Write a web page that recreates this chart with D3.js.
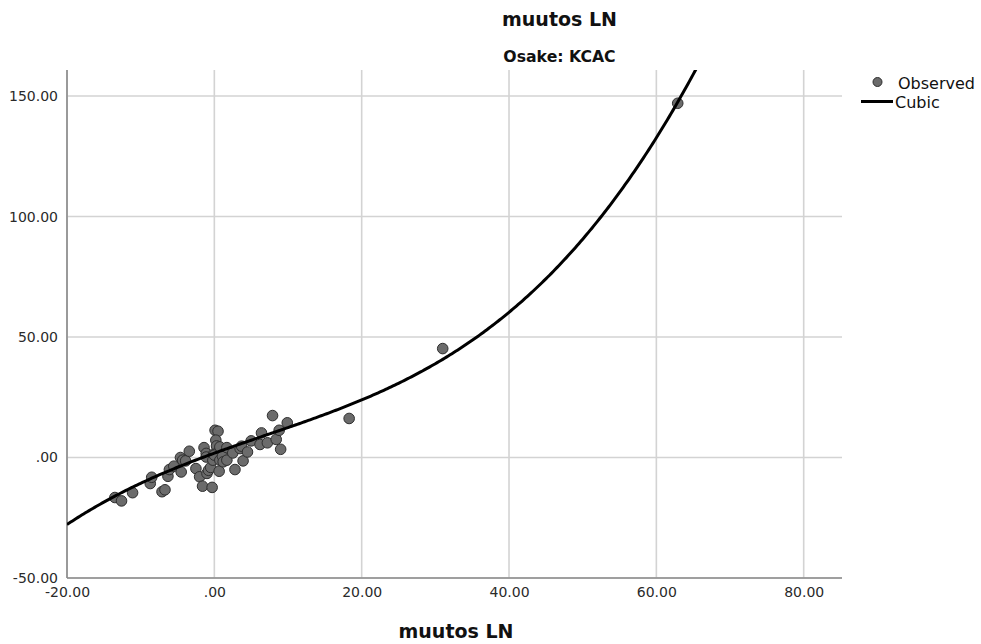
<!DOCTYPE html>
<html><head><meta charset="utf-8">
<script src="https://cdn.jsdelivr.net/npm/d3@7"></script>
<style>body{margin:0;background:#fff}svg{display:block}</style>
</head><body>
<svg id="chart" width="981" height="644"></svg>
<script>
const titleText = "muutos LN";
const subtitleText = "Osake: KCAC";
const xAxisTitle = "muutos LN";
const legendLabels = ["Observed", "Cubic"];
const xTicks = [-20, 0, 20, 40, 60, 80];
const yTicks = [-50, 0, 50, 100, 150];
const xTickLabels = ["-20.00", ".00", "20.00", "40.00", "60.00", "80.00"];
const yTickLabels = ["-50.00", ".00", "50.00", "100.00", "150.00"];
const obsX = [-13.5,-12.6,-11.1,-8.7,-8.5,-7.1,-6.7,-6.3,-6.1,-5.5,-4.6,-4.3,-3.9,-4.5,-3.4,-2.5,-2.0,-1.6,-1.4,-1.1,-1.1,-1.0,-0.8,-0.5,-0.3,-0.2,-0.1,0.1,0.5,0.2,0.3,0.3,0.0,0.65,0.75,0.75,1.1,1.2,1.7,1.7,2.5,2.8,3.5,3.7,3.9,4.5,5.0,6.2,6.4,7.2,7.9,8.4,8.8,9.0,9.9,18.3,31.0,62.9];
const obsY = [-16.6,-18.0,-14.6,-10.8,-8.2,-14.2,-13.4,-7.8,-5.0,-3.6,0.0,-1.1,-1.4,-6.0,2.6,-4.6,-8.0,-11.9,4.1,1.7,0.2,-6.6,-5.3,-4.1,-12.4,-1.1,1.4,11.3,10.9,7.2,4.8,1.7,1.0,-5.7,4.4,-1.1,0.5,-1.8,4.1,-1.1,1.9,-5.0,3.7,4.7,-1.4,2.3,6.9,5.4,10.2,6.1,17.4,7.5,11.3,3.4,14.4,16.2,45.2,147.0];
// fitted cubic model coefficients (b0, b1, b2, b3)
const cubicCoef = [1.8, 1.111, -0.0094, 0.000454];

const svg = d3.select("#chart");
const L = 67, R = 842, T = 70, B = 578;
const x = d3.scaleLinear().domain([-20, 85.2]).range([L, R]);
const y = d3.scaleLinear().domain([-50, 160.8]).range([B, T]);
const font = "'DejaVu Sans', Verdana, sans-serif";

// grid
svg.append("g").selectAll("line").data(yTicks).join("line")
  .attr("x1", L).attr("x2", R).attr("y1", d => y(d)).attr("y2", d => y(d))
  .attr("stroke", "#d3d3d3").attr("stroke-width", 1.6);
svg.append("g").selectAll("line").data(xTicks).join("line")
  .attr("x1", d => x(d)).attr("x2", d => x(d)).attr("y1", T).attr("y2", B)
  .attr("stroke", "#d3d3d3").attr("stroke-width", 1.6);

// axes
const xAxis = d3.axisBottom(x).tickValues(xTicks).tickSize(0).tickPadding(9)
  .tickFormat((d, i) => xTickLabels[i]);
const yAxis = d3.axisLeft(y).tickValues(yTicks).tickSize(0).tickPadding(9)
  .tickFormat((d, i) => yTickLabels[i]);
const gx = svg.append("g").attr("transform", `translate(0,${B})`).call(xAxis);
const gy = svg.append("g").attr("transform", `translate(${L},0)`).call(yAxis);
[gx, gy].forEach(g => {
  g.select(".domain").attr("stroke", "#8a8a8a").attr("stroke-width", 1.6);
  g.selectAll("text").attr("font-family", font).attr("font-size", 14).attr("fill", "#2a2a2a");
});
gx.select(".domain").attr("d", `M${L},0H${R}`);
gy.select(".domain").attr("d", `M0,${T}V${B}`);

// clip
svg.append("clipPath").attr("id", "clip").append("rect")
  .attr("x", L).attr("y", T).attr("width", R - L).attr("height", B - T);

// points
svg.append("g").selectAll("circle").data(obsX.map((v, i) => [v, obsY[i]])).join("circle")
  .attr("cx", d => x(d[0])).attr("cy", d => y(d[1])).attr("r", 5.3)
  .attr("fill", "#6b6b6b").attr("stroke", "#2e2e2e").attr("stroke-width", 1);

// cubic curve
const f = v => cubicCoef[0] + cubicCoef[1]*v + cubicCoef[2]*v*v + cubicCoef[3]*v*v*v;
const xs = d3.range(-20, 70.01, 0.25);
svg.append("path").datum(xs).attr("clip-path", "url(#clip)")
  .attr("d", d3.line().x(v => x(v)).y(v => y(f(v))))
  .attr("fill", "none").attr("stroke", "#000").attr("stroke-width", 3);

// titles
svg.append("text").attr("x", 559.5).attr("y", 26).attr("text-anchor", "middle")
  .attr("font-family", font).attr("font-weight", "bold").attr("font-size", 19).attr("fill", "#111").text(titleText);
svg.append("text").attr("x", 559.5).attr("y", 62).attr("text-anchor", "middle")
  .attr("font-family", font).attr("font-weight", "bold").attr("font-size", 15.7).attr("fill", "#111").text(subtitleText);
svg.append("text").attr("x", 456).attr("y", 638).attr("text-anchor", "middle")
  .attr("font-family", font).attr("font-weight", "bold").attr("font-size", 19).attr("fill", "#111").text(xAxisTitle);

// legend
const lg = svg.append("g");
lg.append("circle").attr("cx", 877.5).attr("cy", 82).attr("r", 4.5)
  .attr("fill", "#6b6b6b").attr("stroke", "#2e2e2e").attr("stroke-width", 1);
lg.append("line").attr("x1", 861).attr("x2", 893).attr("y1", 101.5).attr("y2", 101.5)
  .attr("stroke", "#000").attr("stroke-width", 3);
lg.selectAll("text").data(legendLabels).join("text")
  .attr("x", (d, i) => i === 0 ? 898 : 895).attr("y", (d, i) => i === 0 ? 88.5 : 107.5)
  .attr("font-family", font).attr("font-size", 16).attr("fill", "#111").text(d => d);
</script>
</body></html>
